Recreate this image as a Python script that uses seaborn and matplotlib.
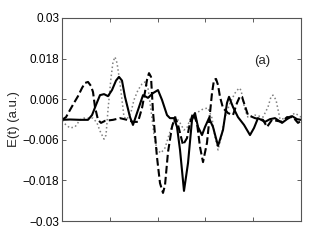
import matplotlib
matplotlib.use("Agg")
import matplotlib.pyplot as plt
import seaborn as sns
import pandas as pd

# ---- data ----
t_solid = [0, 0.167, 0.377, 0.544, 0.628, 0.711, 0.795, 0.879, 0.962, 1.046, 1.130, 1.192, 1.255, 1.318,
           1.423, 1.485, 1.590, 1.695, 1.799, 1.904, 2.008, 2.092, 2.197, 2.259, 2.343, 2.406, 2.469, 2.552,
           2.636, 2.720, 2.782, 2.845, 2.929, 2.992, 3.075, 3.159, 3.264, 3.368, 3.452, 3.494, 3.577, 3.682,
           3.808, 3.933, 4.017, 4.100, 4.247, 4.351, 4.456, 4.603, 4.707, 4.812, 4.916, 5.0]
e_solid = [-0.0001, 0.0, -0.0001, -0.0001, 0.0013, 0.0043, 0.0072, 0.0075, 0.0069, 0.0087, 0.0115, 0.0126,
           0.0115, 0.0067, 0.0007, -0.0016, 0.0028, 0.0072, 0.0064, 0.0078, 0.0087, 0.0058, 0.0013, 0.0004,
           0.0004, -0.0022, -0.0090, -0.0211, -0.0129, -0.0001, 0.0019, -0.0022, -0.0046, -0.0022, 0.0004,
           -0.0022, -0.0078, -0.0031, 0.0049, 0.0067, 0.0037, 0.0007, -0.0016, -0.0046, -0.0025, 0.0004,
           -0.0007, 0.0001, 0.0004, -0.0010, 0.0001, 0.0010, 0.0001, -0.0001]

t_dash = [0, 0.084, 0.167, 0.251, 0.335, 0.418, 0.481, 0.544, 0.607, 0.649, 0.690, 0.753, 0.816, 0.900,
          1.067, 1.213, 1.360, 1.485, 1.590, 1.674, 1.736, 1.778, 1.820, 1.862, 1.904, 1.987, 2.050, 2.113,
          2.155, 2.218, 2.301, 2.364, 2.427, 2.531, 2.615, 2.678, 2.741, 2.824, 2.887, 2.950, 3.033, 3.096,
          3.138, 3.180, 3.222, 3.264, 3.305, 3.368, 3.473, 3.577, 3.661, 3.724, 3.766, 3.828, 3.891, 4.038,
          4.205, 4.289, 4.393, 4.498, 4.603, 4.707, 4.833, 4.937, 5.0]
e_dash = [-0.0001, 0.0007, 0.0028, 0.0049, 0.0069, 0.0093, 0.0108, 0.0111, 0.0099, 0.0081, 0.0037, -0.0001,
          -0.0010, -0.0004, -0.0001, 0.0004, -0.0001, -0.0007, -0.0007, 0.0034, 0.0081, 0.0117, 0.0137,
          0.0126, 0.0022, -0.0111, -0.0188, -0.0217, -0.0194, -0.0096, -0.0022, 0.0007, -0.0016, -0.0075,
          -0.0055, -0.0010, 0.0019, -0.0010, -0.0081, -0.0126, -0.0069, 0.0019, 0.0078, 0.0117, 0.0120,
          0.0102, 0.0067, 0.0034, 0.0019, 0.0013, 0.0049, 0.0069, 0.0067, 0.0040, 0.0013, 0.0004, -0.0001,
          -0.0022, -0.0001, -0.0004, -0.0007, 0.0007, 0.0007, -0.0010, -0.0004]

t_dot = [0, 0.084, 0.167, 0.272, 0.377, 0.460, 0.649, 0.732, 0.795, 0.879, 0.921, 0.962, 1.025, 1.067, 1.109,
         1.151, 1.213, 1.255, 1.297, 1.360, 1.444, 1.506, 1.590, 1.674, 1.736, 1.799, 1.862, 1.925, 1.987,
         2.071, 2.155, 2.238, 2.322, 2.385, 2.469, 2.552, 2.615, 2.678, 2.762, 2.845, 2.950, 3.054, 3.138,
         3.201, 3.264, 3.326, 3.410, 3.515, 3.619, 3.703, 3.745, 3.828, 3.891, 4.038, 4.205, 4.310, 4.372,
         4.414, 4.477, 4.561, 4.707, 4.874, 5.0]
e_dot = [-0.0004, -0.0016, -0.0025, -0.0022, -0.0001, 0.0004, 0.0004, -0.0010, -0.0034, -0.0058, -0.0046,
         0.0028, 0.0123, 0.0170, 0.0185, 0.0167, 0.0108, 0.0058, 0.0007, 0.0001, 0.0022, 0.0058, 0.0087,
         0.0105, 0.0111, 0.0093, 0.0028, -0.0046, -0.0090, -0.0099, -0.0084, -0.0046, -0.0010, 0.0007,
         -0.0010, -0.0031, -0.0025, 0.0001, 0.0016, 0.0022, 0.0031, 0.0034, 0.0004, -0.0052, -0.0090,
         -0.0055, 0.0007, 0.0049, 0.0078, 0.0093, 0.0087, 0.0028, 0.0007, 0.0013, 0.0007, 0.0037, 0.0067,
         0.0072, 0.0058, 0.0001, 0.0004, 0.0019, 0.0007]

y_ticks = [-0.03, -0.018, -0.006, 0.006, 0.018, 0.03]
y_tick_labels = ["\u22120.03", "\u22120.018", "\u22120.006", "0.006", "0.018", "0.03"]
x_ticks = [0, 1, 2, 3, 4, 5]
y_label = "E(t) (a.u.)"
panel_label = "(a)"

# ---- plot ----
sns.set_style("ticks")
plt.rcParams["font.family"] = ["Liberation Sans", "DejaVu Sans"]

fig = plt.figure(figsize=(3.32, 2.5), dpi=100)
ax = fig.add_axes([62 / 332, 1 - 221 / 250, (301 - 62) / 332, (221 - 18) / 250])

sns.lineplot(x=t_dot, y=e_dot, ax=ax, color="#808080", linestyle=":", linewidth=1.1,
             sort=False, estimator=None)
sns.lineplot(x=t_dash, y=e_dash, ax=ax, color="black", linestyle="--", linewidth=1.5,
             sort=False, estimator=None)
sns.lineplot(x=t_solid, y=e_solid, ax=ax, color="black", linestyle="-", linewidth=1.5,
             sort=False, estimator=None)

ax.set_xlim(0, 5)
ax.set_ylim(-0.03, 0.03)
ax.set_xticks(x_ticks)
ax.set_xticklabels([])
ax.set_yticks(y_ticks)
ax.set_yticklabels(y_tick_labels)
ax.tick_params(direction="in", length=3, width=0.6, top=True, right=True,
               labelsize=8.5, colors="#444444", labelcolor="black", pad=2)
for s in ax.spines.values():
    s.set_visible(True)
    s.set_color("#555555")
    s.set_linewidth(0.8)
ax.set_ylabel(y_label, fontsize=9.5, labelpad=2)
ax.text(4.184, 0.0173, panel_label, fontsize=9.5, ha="center", va="center")

fig.savefig("out.png", dpi=100)
